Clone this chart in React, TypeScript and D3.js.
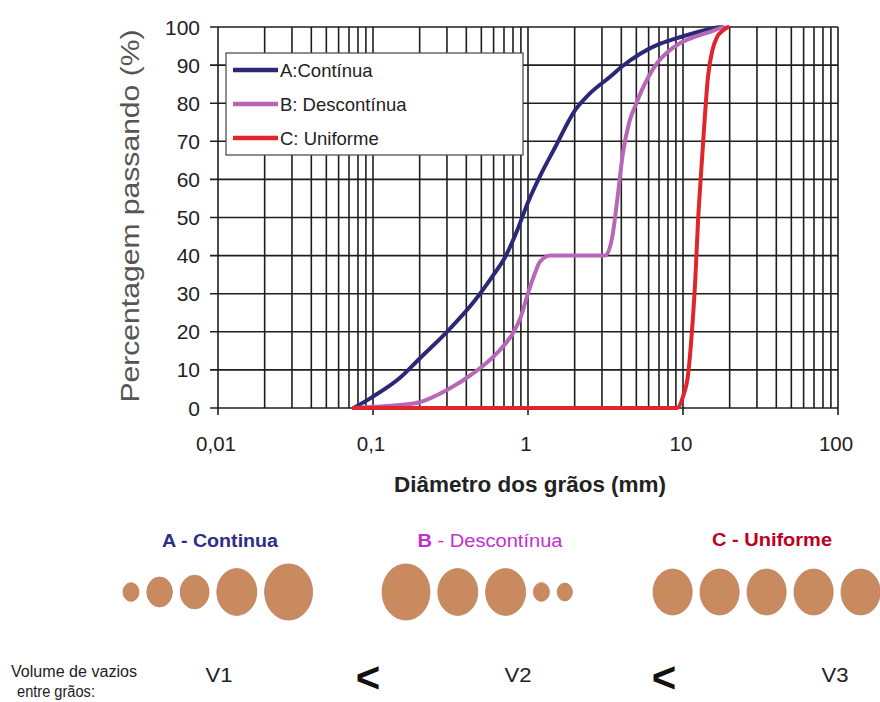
import React from 'react';
import * as d3 from 'd3';

// grain size (mm) vs percent passing
const curveA: [number, number][] = [
  [0.075, 0], [0.1, 3], [0.15, 8], [0.2, 13], [0.3, 20], [0.45, 28], [0.6, 35],
  [0.71, 39.5], [0.85, 46.5], [1, 54], [1.2, 61], [1.5, 68.5], [2, 78], [2.5, 82.5],
  [3.4, 87], [4, 89.5], [5.3, 93], [7, 95.5], [8.7, 96.8], [12, 98.5], [15.6, 99.7], [18, 100],
];
const curveB: [number, number][] = [
  [0.075, 0], [0.1, 0.3], [0.15, 0.8], [0.2, 1.5], [0.3, 4.7], [0.44, 9], [0.63, 14.4],
  [0.8, 19.7], [0.9, 24], [0.98, 29], [1.1, 35], [1.2, 38.5], [1.4, 40], [3.15, 40],
  [3.5, 45], [3.75, 54], [4.1, 67], [4.5, 75], [5, 80], [6, 87], [6.8, 90.5], [8, 93.5],
  [9.6, 95.8], [12, 97.5], [15.6, 99], [18, 100],
];
const curveC: [number, number][] = [
  [0.075, 0], [9.15, 0], [10, 3], [10.8, 9], [11.4, 19.7], [12, 33.6], [12.5, 49],
  [13, 60], [13.6, 72], [14.5, 87], [15.5, 94], [16.6, 97.4], [18, 99], [19.5, 100],
];

const seriesNames = ['A:Contínua', 'B: Descontínua', 'C: Uniforme'];
const seriesColors = ['#2b2878', '#b866b8', '#e0262a'];

const yTicks = d3.range(0, 101, 10);
const xTickValues = [0.01, 0.1, 1, 10, 100];
const xTickLabels = ['0,01', '0,1', '1', '10', '100'];

// relative grain sizes for the three gradings
const grainsA = [1, 1.6, 1.8, 2.5, 3];
const grainsB = [3, 2.5, 2.5, 1, 0.95];
const grainsC = [2.45, 2.45, 2.45, 2.45, 2.45];

const FONT = '"Liberation Sans", Arial, sans-serif';

function Grains({ sizes, startX, cy }: { sizes: number[]; startX: number; cy: number }) {
  const r = d3.scaleLinear().domain([0, 3]).range([0, 24]);
  let cursor = startX;
  const items = sizes.map((s, i) => {
    const rx = r(s);
    const cx = cursor + rx;
    cursor = cx + rx + 7.8;
    return <ellipse key={i} cx={cx} cy={cy} rx={rx} ry={rx * 1.17} fill="#c98a60" stroke="#b98060" strokeWidth={0.8} />;
  });
  return <g>{items}</g>;
}

export default function App() {
  const x = d3.scaleLog().domain([0.01, 100]).range([218, 838]);
  const y = d3.scaleLinear().domain([0, 100]).range([408, 27]);
  const line = d3.line<[number, number]>()
    .x(d => x(d[0]))
    .y(d => y(d[1]))
    .curve(d3.curveMonotoneX);

  const gridX = x.ticks();
  const curves = [curveA, curveB, curveC];

  return (
    <svg width={880} height={702} style={{ position: 'absolute', left: 0, top: 0 }} fontFamily={FONT}>
      <rect width={880} height={702} fill="#fff" />

      {/* grid */}
      {gridX.map((v, i) => (
        <line key={'gx' + i} x1={x(v)} x2={x(v)} y1={y(100)} y2={y(0)} stroke="#1e1e1e" strokeWidth={1.6} />
      ))}
      {yTicks.map(v => (
        <line key={'gy' + v} x1={x(0.01) - 8} x2={x(100)} y1={y(v)} y2={y(v)} stroke="#1e1e1e" strokeWidth={1.6} />
      ))}
      {xTickValues.map(v => (
        <line key={'xt' + v} x1={x(v)} x2={x(v)} y1={y(0)} y2={y(0) + 7} stroke="#1e1e1e" strokeWidth={1.6} />
      ))}

      {/* tick labels */}
      {yTicks.map(v => (
        <text key={'yl' + v} x={200} y={y(v) + 7.5} textAnchor="end" fontSize={21} fill="#222">{v}</text>
      ))}
      {xTickValues.map((v, i) => (
        <text key={'xl' + v} x={x(v) - 2} y={451} textAnchor="middle" fontSize={20.5} fill="#222">{xTickLabels[i]}</text>
      ))}

      {/* axis titles */}
      <text transform="translate(139,216) rotate(-90)" textAnchor="middle" fontSize={25} fill="#555"
        textLength={373} lengthAdjust="spacingAndGlyphs">Percentagem passando (%)</text>
      <text x={530} y={492} textAnchor="middle" fontSize={22} fontWeight="bold" fill="#222"
        textLength={272} lengthAdjust="spacingAndGlyphs">Diâmetro dos grãos (mm)</text>

      {/* curves */}
      {curves.map((c, i) => (
        <path key={'c' + i} d={line(c) || ''} fill="none" stroke={seriesColors[i]} strokeWidth={4}
          strokeLinejoin="round" strokeLinecap="round" />
      ))}

      {/* legend */}
      <rect x={226} y={53} width={297} height={102} fill="#fff" stroke="#444" strokeWidth={1.2} />
      {seriesNames.map((n, i) => (
        <g key={'lg' + i} transform={`translate(233,${70 + i * 34})`}>
          <line x1={0} x2={45} y1={0} y2={0} stroke={seriesColors[i]} strokeWidth={4.5} />
          <text x={47} y={6.5} fontSize={18.5} fill="#222">{n}</text>
        </g>
      ))}

      {/* grain illustration */}
      <text x={220} y={547} textAnchor="middle" fontSize={18} fontWeight="bold" fill="#2e2d87"
        textLength={116} lengthAdjust="spacingAndGlyphs">A - Continua</text>
      <text x={490} y={547} textAnchor="middle" fontSize={18} fill="#c030d0"
        textLength={145} lengthAdjust="spacingAndGlyphs"><tspan fontWeight="bold">B</tspan> - Descontínua</text>
      <text x={772} y={546} textAnchor="middle" fontSize={18} fontWeight="bold" fill="#c00020"
        textLength={120} lengthAdjust="spacingAndGlyphs">C - Uniforme</text>

      <Grains sizes={grainsA} startX={123} cy={592} />
      <Grains sizes={grainsB} startX={382} cy={592} />
      <Grains sizes={grainsC} startX={653} cy={592} />

      <text x={11} y={677} fontSize={16} fill="#222" textLength={126} lengthAdjust="spacingAndGlyphs">Volume de vazios</text>
      <text x={17} y={697} fontSize={16} fill="#222" textLength={78} lengthAdjust="spacingAndGlyphs">entre grãos:</text>
      {['V1', 'V2', 'V3'].map((v, i) => (
        <text key={v} x={[219, 518, 835][i]} y={682} textAnchor="middle" fontSize={20} fill="#222"
          textLength={27} lengthAdjust="spacingAndGlyphs">{v}</text>
      ))}
      <text x={368} y={692} textAnchor="middle" fontSize={42} fontWeight="bold" fill="#111">&lt;</text>
      <text x={664} y={692} textAnchor="middle" fontSize={42} fontWeight="bold" fill="#111">&lt;</text>
    </svg>
  );
}
